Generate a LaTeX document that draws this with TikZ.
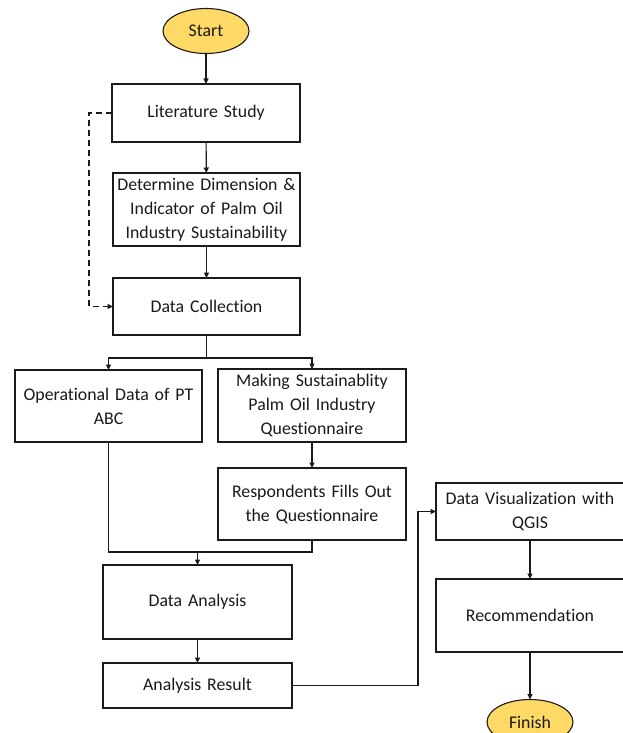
\documentclass[tikz,border=0pt]{standalone}
\usepackage{fontspec}
\setmainfont{Carlito}[Ligatures=NoCommon]
\usetikzlibrary{shapes.geometric,arrows.meta}
\definecolor{termfill}{HTML}{FFD966}
\definecolor{ink}{HTML}{1A1A1A}
\tikzset{
  every node/.style={font=\fontsize{17.8}{24}\selectfont, text=ink},
  procbox/.style={draw=ink, line width=1.1pt, rectangle, inner sep=2pt, outer sep=0pt, align=center},
  termnode/.style={draw=ink, line width=1.1pt, ellipse, fill=termfill, inner sep=0pt, outer sep=0pt, minimum width=86pt, minimum height=45pt},
  conn/.style={draw=ink, line width=1.1pt},
  arr/.style={conn, -{Triangle[length=5.5pt,width=5pt]}},
}
\begin{document}
\begin{tikzpicture}[x=1pt,y=-1pt]
\clip (0,0) rectangle (623,733);
\fill[white] (0,0) rectangle (623,733);
\node[termnode] (start) at (206,31) {Start};
\node[procbox, minimum width=188pt, minimum height=58pt, text width=182pt] (lit) at (206,113) {Literature Study};
\node[procbox, minimum width=187pt, minimum height=73pt, text width=183pt] (det) at (206.5,209.5) {Determine Dimension \&\\Indicator of Palm Oil\\Industry Sustainability};
\node[procbox, minimum width=187pt, minimum height=57pt, text width=181pt] (dc) at (206.5,306.5) {Data Collection};
\node[procbox, minimum width=187pt, minimum height=72pt, text width=181pt] (op) at (108.5,406) {Operational Data of PT\\ABC};
\node[procbox, minimum width=188pt, minimum height=73pt, text width=182pt] (mk) at (312,405.5) {Making Sustainablity\\Palm Oil Industry\\Questionnaire};
\node[procbox, minimum width=188pt, minimum height=72pt, text width=182pt] (resp) at (312,504) {Respondents Fills Out\\the Questionnaire};
\node[procbox, minimum width=189pt, minimum height=74pt, text width=183pt] (da) at (197.5,602) {Data Analysis};
\node[procbox, minimum width=189pt, minimum height=45pt, text width=183pt] (ar) at (197.5,685.5) {Analysis Result};
\node[procbox, minimum width=188pt, minimum height=57pt, text width=182pt] (viz) at (530,511.5) {Data Visualization with\\QGIS};
\node[procbox, minimum width=188pt, minimum height=73pt, text width=182pt] (rec) at (530,615.5) {Recommendation};
\node[termnode] (fin) at (530,722) {Finish};

\draw[arr] (start) -- (lit);
\draw[arr] (lit) -- (det);
\draw[arr] (det) -- (dc);
\coordinate (dl) at (89,113);
\coordinate (dl2) at (89,306.5);
\draw[arr, dash pattern=on 6pt off 4pt] (lit.west) -- (dl) -- (dl2) -- (dc.west);
\coordinate (split) at (206.5,358);
\draw[conn] (dc.south) -- (split);
\draw[arr] (split) -| (op.north);
\draw[arr] (split) -| (mk.north);
\draw[arr] (mk) -- (resp);
\coordinate (merge) at (197.5,552);
\draw[conn] (op.south) |- (merge);
\draw[conn] (resp.south) |- (merge);
\draw[arr] (merge) -- (da.north);
\draw[arr] (da) -- (ar);
\coordinate (turn) at (418,511.5);
\draw[arr] (ar.east) -| (turn) -- (viz.west);
\draw[arr] (viz) -- (rec);
\draw[arr] (rec) -- (fin);
\end{tikzpicture}
\end{document}
